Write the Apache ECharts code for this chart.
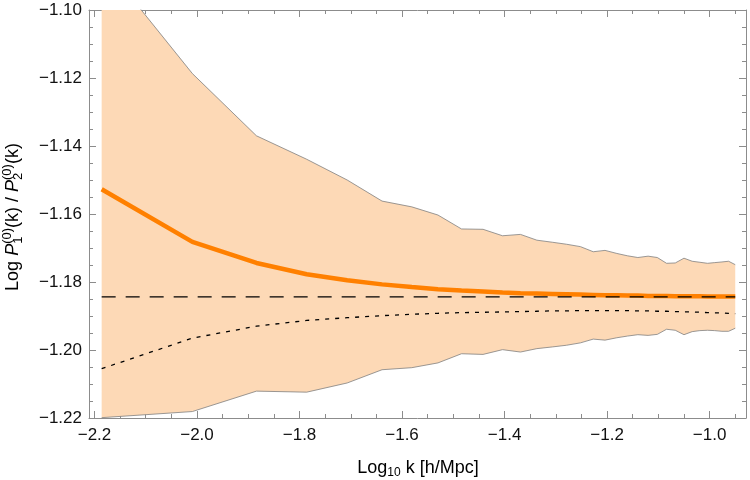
<!DOCTYPE html>
<html>
<head>
<meta charset="utf-8">
<script src="https://cdn.jsdelivr.net/npm/echarts@6/dist/echarts.min.js"></script>
<style>
html, body { margin: 0; padding: 0; background: #fff; }
#container { width: 750px; height: 480px; }
</style>
</head>
<body>
<div id="container"></div>
<script>
// log10 k sample points
var logK = [-2.186, -2.009, -1.884, -1.786, -1.707, -1.639, -1.581, -1.530, -1.484, -1.442,
            -1.404, -1.369, -1.337, -1.307, -1.279, -1.252, -1.227, -1.204, -1.181, -1.160,
            -1.140, -1.120, -1.102, -1.084, -1.067, -1.050, -1.034, -1.019, -1.004, -0.990,
            -0.976, -0.963, -0.950];

// band: upper / lower edge
var upper = [-1.0855, -1.1187, -1.1370, -1.1439, -1.1500, -1.1562, -1.1579, -1.1603, -1.1644, -1.1645,
             -1.1664, -1.1660, -1.1677, -1.1683, -1.1689, -1.1696, -1.1711, -1.1707, -1.1716, -1.1723,
             -1.1728, -1.1724, -1.1728, -1.1745, -1.1744, -1.1730, -1.1739, -1.1742, -1.1745, -1.1743,
             -1.1741, -1.1739, -1.1749];
var lower = [-1.2199, -1.2181, -1.2121, -1.2124, -1.2097, -1.2058, -1.2052, -1.2038, -1.2011, -1.2013,
             -1.1999, -1.2006, -1.1996, -1.1991, -1.1986, -1.1979, -1.1968, -1.1971, -1.1964, -1.1959,
             -1.1955, -1.1957, -1.1954, -1.1939, -1.1942, -1.1955, -1.1946, -1.1943, -1.1942, -1.1943,
             -1.1945, -1.1945, -1.1936];

// orange curve (mean)
var mean = [-1.1527, -1.1682, -1.1744, -1.1777, -1.1795, -1.1807, -1.1815, -1.1821, -1.1825, -1.1828,
            -1.1831, -1.1833, -1.1834, -1.1835, -1.1836, -1.1837, -1.1838, -1.1839, -1.1839, -1.1840,
            -1.1840, -1.1841, -1.1841, -1.1841, -1.1842, -1.1842, -1.1842, -1.1842, -1.1843, -1.1843,
            -1.1843, -1.1843, -1.1843];

// dotted curve
var dotted = [-1.2055, -1.1965, -1.1930, -1.1913, -1.1905, -1.1899, -1.1895, -1.1892, -1.1890, -1.1889,
              -1.1888, -1.1887, -1.1886, -1.1885, -1.1885, -1.1884, -1.1884, -1.1884, -1.1884, -1.1884,
              -1.1885, -1.1885, -1.1886, -1.1886, -1.1887, -1.1888, -1.1888, -1.1889, -1.1890, -1.1891,
              -1.1891, -1.1892, -1.1893];

// dashed level
var refLevel = -1.1844;

// ticks
var xMajor = [-2.2, -2.0, -1.8, -1.6, -1.4, -1.2, -1.0];
var xMinor = [-2.15, -2.1, -2.05, -1.95, -1.9, -1.85, -1.75, -1.7, -1.65, -1.55, -1.5, -1.45,
              -1.35, -1.3, -1.25, -1.15, -1.1, -1.05, -0.95];

var FONT      = '"Liberation Sans", Arial, sans-serif';
var frameCol  = '#8c8c8c';
var bandCol   = '#FDD9B6';
var orangeCol = '#FF8000';

function pairs(xs, ys) {
    var out = [];
    for (var i = 0; i < xs.length; i++) out.push([xs[i], ys[i]]);
    return out;
}
function minus(s) { return s.replace('-', '\u2212'); }

// text widths for hand-built titles
var ctx = document.createElement('canvas').getContext('2d');
function textW(str, size, italic) {
    ctx.font = (italic ? 'italic ' : '') + size + 'px ' + FONT;
    return ctx.measureText(str).width;
}
function buildTitle(pieces, big, small) {
    var total = 0;
    pieces.forEach(function (p) {
        p.w = p.t !== undefined ? textW(p.t, big, p.it) : Math.max(textW(p.sup || '', small), textW(p.sub || '', small));
        total += p.w;
    });
    var cx = -total / 2;
    var kids = [];
    pieces.forEach(function (p) {
        if (p.t !== undefined) {
            kids.push({type: 'text', style: {text: p.t, x: cx, y: 0, fontSize: big, fontFamily: FONT,
                fontStyle: p.it ? 'italic' : 'normal', fill: '#000', align: 'left', verticalAlign: 'middle'}});
        } else {
            if (p.sup) kids.push({type: 'text', style: {text: p.sup, x: cx, y: -6, fontSize: small, fontFamily: FONT,
                fill: '#000', align: 'left', verticalAlign: 'middle'}});
            if (p.sub) kids.push({type: 'text', style: {text: p.sub, x: cx, y: 5, fontSize: small, fontFamily: FONT,
                fill: '#000', align: 'left', verticalAlign: 'middle'}});
        }
        cx += p.w;
    });
    return kids;
}

var yTitle = buildTitle([
    {t: 'Log '}, {t: 'P', it: true}, {sup: '(0)', sub: '1'},
    {t: '(k) / '}, {t: 'P', it: true}, {sup: '(0)', sub: '2'}, {t: '(k)'}
], 18, 13);
var xTitle = buildTitle([{t: 'Log'}, {sub: '10'}, {t: ' k [h/Mpc]'}], 18, 12);

var dom   = document.getElementById('container');
var chart = echarts.init(dom);

function xAxisCfg(pos, values, len, showLine, showLabel) {
    return {
        type: 'value',
        position: pos,
        min: -2.2107,
        max: -0.929,
        axisLine: {show: showLine, lineStyle: {color: frameCol, width: 1}},
        axisTick: {show: true, inside: true, length: len, customValues: values,
                   lineStyle: {color: frameCol, width: 1}},
        axisLabel: {show: showLabel, customValues: values, margin: 9, color: '#111',
                    fontSize: 17, fontFamily: FONT,
                    formatter: function (v) { return minus(v.toFixed(1)); }},
        splitLine: {show: false}
    };
}
function yAxisCfg(pos, showLabel) {
    return {
        type: 'value',
        position: pos,
        min: -1.22,
        max: -1.10,
        interval: 0.02,
        axisLine: {show: true, lineStyle: {color: frameCol, width: 1}},
        axisTick: {show: true, inside: true, length: 7, lineStyle: {color: frameCol, width: 1}},
        minorTick: {show: true, splitNumber: 4, length: 4, lineStyle: {color: frameCol, width: 1}},
        axisLabel: {show: showLabel, margin: 7, color: '#111', fontSize: 17, fontFamily: FONT,
                    formatter: function (v) { return minus(v.toFixed(2)); }},
        splitLine: {show: false},
        minorSplitLine: {show: false}
    };
}

option = {
    animation: false,
    backgroundColor: '#fff',
    grid: {left: 89, right: 4, top: 10, bottom: 62},
    xAxis: [
        xAxisCfg('bottom', xMajor, 7, true, true),
        xAxisCfg('bottom', xMinor, 4, false, false),
        xAxisCfg('top', xMajor, 7, true, false),
        xAxisCfg('top', xMinor, 4, false, false)
    ],
    yAxis: [
        yAxisCfg('left', true),
        yAxisCfg('right', false)
    ],
    graphic: [
        {type: 'group', x: 13, y: 217, rotation: Math.PI / 2, children: yTitle},
        {type: 'group', x: 418, y: 468, children: xTitle}
    ],
    series: [
        {
            // filled band
            type: 'custom',
            coordinateSystem: 'cartesian2d',
            clip: true,
            silent: true,
            z: 1,
            data: [[logK[0], mean[0]]],
            renderItem: function (params, api) {
                var pts = [];
                for (var i = 0; i < logK.length; i++) pts.push(api.coord([logK[i], upper[i]]));
                for (var j = logK.length - 1; j >= 0; j--) pts.push(api.coord([logK[j], lower[j]]));
                return {type: 'polygon', shape: {points: pts}, style: {fill: bandCol}};
            }
        },
        {
            type: 'line', data: pairs(logK, upper), symbol: 'none', z: 2,
            lineStyle: {color: '#808080', width: 0.8}
        },
        {
            type: 'line', data: pairs(logK, lower), symbol: 'none', z: 2,
            lineStyle: {color: '#808080', width: 0.8}
        },
        {
            type: 'line', data: pairs(logK, dotted), symbol: 'none', z: 2,
            lineStyle: {color: '#000', width: 1.3, type: [4, 6]}
        },
        {
            type: 'line', data: pairs(logK, mean), symbol: 'none', z: 3,
            lineStyle: {color: orangeCol, width: 4.5}
        },
        {
            type: 'line', data: [[logK[0], refLevel], [logK[logK.length - 1], refLevel]], symbol: 'none', z: 4,
            lineStyle: {color: '#000', width: 1.3, type: [14, 10]}
        }
    ]
};

chart.setOption(option, true);
</script>
</body>
</html>
